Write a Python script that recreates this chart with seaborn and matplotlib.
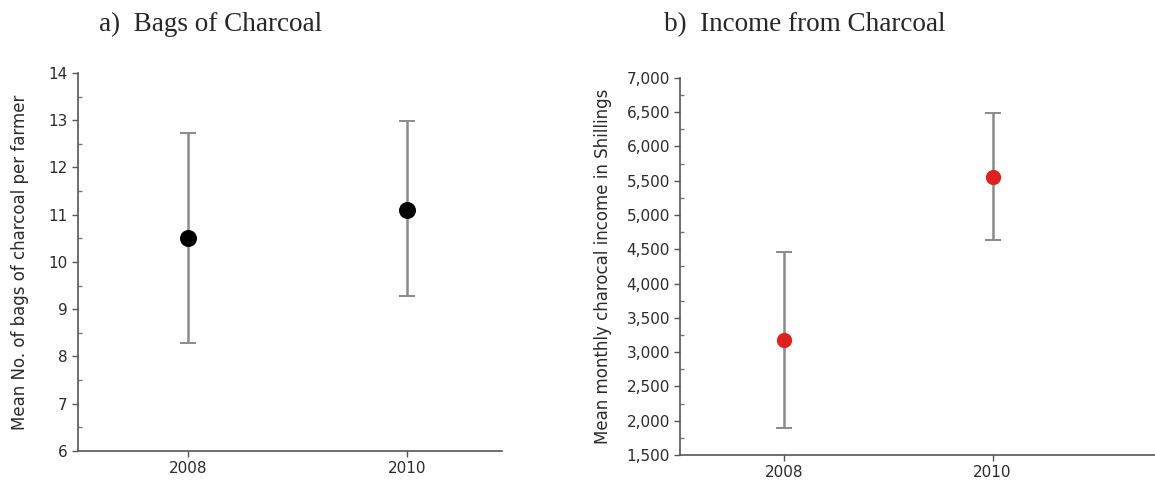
import matplotlib
matplotlib.use('Agg')
import matplotlib.pyplot as plt
from matplotlib.ticker import AutoMinorLocator, StrMethodFormatter, MultipleLocator
import seaborn as sns
import pandas as pd

# --- data ---
years = ['2008', '2010']

bags_mean = [10.5, 11.1]
bags_low = [8.28, 9.27]
bags_high = [12.72, 12.98]

income_mean = [3175, 5560]
income_low = [1900, 4630]
income_high = [4460, 6490]

sns.set_style('white')
plt.rcParams['font.family'] = ['DejaVu Sans']

fig = plt.figure(figsize=(11.55, 4.86), dpi=100)
ax1 = fig.add_axes([0.0675, 0.072, 0.367, 0.778])
ax2 = fig.add_axes([0.589, 0.0638, 0.411, 0.776])


def draw_panel(ax, mean, low, high, color, msize):
    df = pd.DataFrame({'Year': years, 'Mean': mean})
    yerr = [[m - lo for m, lo in zip(mean, low)], [hi - m for m, hi in zip(mean, high)]]
    ax.errorbar(years, mean, yerr=yerr, fmt='none', ecolor='#8a8a8a',
                elinewidth=1.8, capsize=6, capthick=1.4, zorder=1)
    sns.scatterplot(data=df, x='Year', y='Mean', color=color, s=msize,
                    edgecolor=color, linewidth=0, ax=ax, zorder=2, legend=False)
    for side in ['top', 'right']:
        ax.spines[side].set_visible(False)
    for side in ['left', 'bottom']:
        ax.spines[side].set_color('#555555')
        ax.spines[side].set_linewidth(1.2)
    ax.tick_params(axis='both', which='major', direction='out', length=4,
                   width=1, color='#555555', labelsize=11, labelcolor='#2a2a2a', left=True, bottom=True)
    ax.set_xlabel('')


# --- Panel a: bags of charcoal ---
draw_panel(ax1, bags_mean, bags_low, bags_high, 'black', 150)
ax1.set_xlim(-0.5, 1.43)
ax1.set_ylim(6, 14)
ax1.yaxis.set_major_locator(MultipleLocator(1))
ax1.yaxis.set_minor_locator(AutoMinorLocator(2))
ax1.tick_params(axis='y', which='minor', direction='in', length=3, width=1,
                color='#777777', left=True)
ax1.set_ylabel('Mean No. of bags of charcoal per farmer', fontsize=12,
               color='#2a2a2a', labelpad=14)

# --- Panel b: income from charcoal ---
draw_panel(ax2, income_mean, income_low, income_high, '#e0201a', 120)
ax2.set_xlim(-0.5, 1.78)
ax2.set_ylim(1500, 7000)
ax2.yaxis.set_major_locator(MultipleLocator(500))
ax2.yaxis.set_minor_locator(AutoMinorLocator(2))
ax2.tick_params(axis='y', which='minor', direction='in', length=3, width=1,
                color='#777777', left=True)
ax2.yaxis.set_major_formatter(StrMethodFormatter('{x:,.0f}'))
ax2.set_ylabel('Mean monthly charocal income in Shillings', fontsize=12,
               color='#2a2a2a', labelpad=10)

# --- panel titles ---
fig.text(0.182, 0.949, 'a)  Bags of Charcoal', family='Liberation Serif',
         fontsize=19.5, ha='center', va='center')
fig.text(0.697, 0.949, 'b)  Income from Charcoal', family='Liberation Serif',
         fontsize=19.5, ha='center', va='center')

fig.savefig('out.png', dpi=100)
